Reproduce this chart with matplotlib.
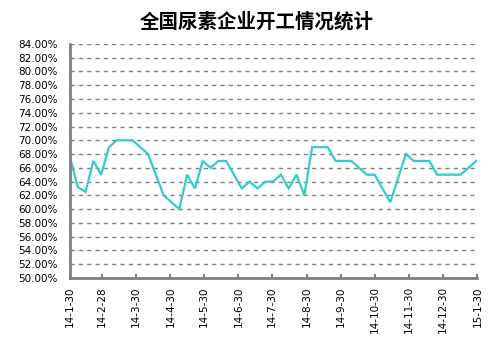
import matplotlib
matplotlib.use("Agg")
import matplotlib.pyplot as plt
import pandas as pd

TITLE = "全国尿素企业开工情况统计"
START = "2014-01-30"
# weekly operating rate, %
RATE = [67.6, 63.2, 62.5, 67.0, 65.0, 69.0, 70.0, 70.0, 70.0, 69.0,
        68.0, 65.0, 62.0, 61.0, 60.0, 65.0, 63.0, 67.0, 66.0, 67.0,
        67.0, 65.0, 63.0, 64.0, 63.0, 64.0, 64.0, 65.0, 63.0, 65.0,
        62.0, 69.0, 69.0, 69.0, 67.0, 67.0, 67.0, 66.0, 65.0, 65.0,
        63.0, 61.0, 64.5, 68.0, 67.0, 67.0, 67.0, 65.0, 65.0, 65.0,
        65.0, 66.0, 67.0]
TICK_DATES = ["2014-01-30", "2014-02-28", "2014-03-30", "2014-04-30", "2014-05-30",
              "2014-06-30", "2014-07-30", "2014-08-30", "2014-09-30", "2014-10-30",
              "2014-11-30", "2014-12-30", "2015-01-30"]
TICK_LABELS = ["14-1-30", "14-2-28", "14-3-30", "14-4-30", "14-5-30", "14-6-30",
               "14-7-30", "14-8-30", "14-9-30", "14-10-30", "14-11-30", "14-12-30",
               "15-1-30"]
Y_TICKS = list(range(50, 85, 2))

dates = pd.date_range(START, periods=len(RATE), freq="7D")

fig = plt.figure(figsize=(5.03, 3.51), dpi=100)
ax = fig.add_axes([0.139, 0.208, 0.81, 0.667])

ax.plot(dates, RATE, color="#33CCCC", lw=1.6, solid_joinstyle="miter")

ax.set_xlim(pd.Timestamp(TICK_DATES[0]), pd.Timestamp(TICK_DATES[-1]))
ax.set_ylim(50, 84)
ax.set_yticks(Y_TICKS)
ax.set_yticklabels([f"{v:.2f}%" for v in Y_TICKS], fontsize=7.5)
ax.set_xticks([pd.Timestamp(d) for d in TICK_DATES])
ax.set_xticklabels(TICK_LABELS, rotation=90, fontsize=7.5)

ax.yaxis.grid(True, color="#808080", ls=(0, (3, 3)), lw=1.0)
ax.set_axisbelow(True)
for s in ("top", "right"):
    ax.spines[s].set_visible(False)
for s in ("left", "bottom"):
    ax.spines[s].set_color("#808080")
    ax.spines[s].set_linewidth(2)
ax.tick_params(axis="x", direction="in", length=3, color="#808080", width=1.5, pad=6)
ax.tick_params(axis="y", length=0, pad=9)

fig.text(0.51, 0.937, TITLE, ha="center", va="center", fontsize=14, fontweight="bold",
         family=["Noto Sans CJK SC", "DejaVu Sans"])

fig.savefig("out.png", dpi=100)
